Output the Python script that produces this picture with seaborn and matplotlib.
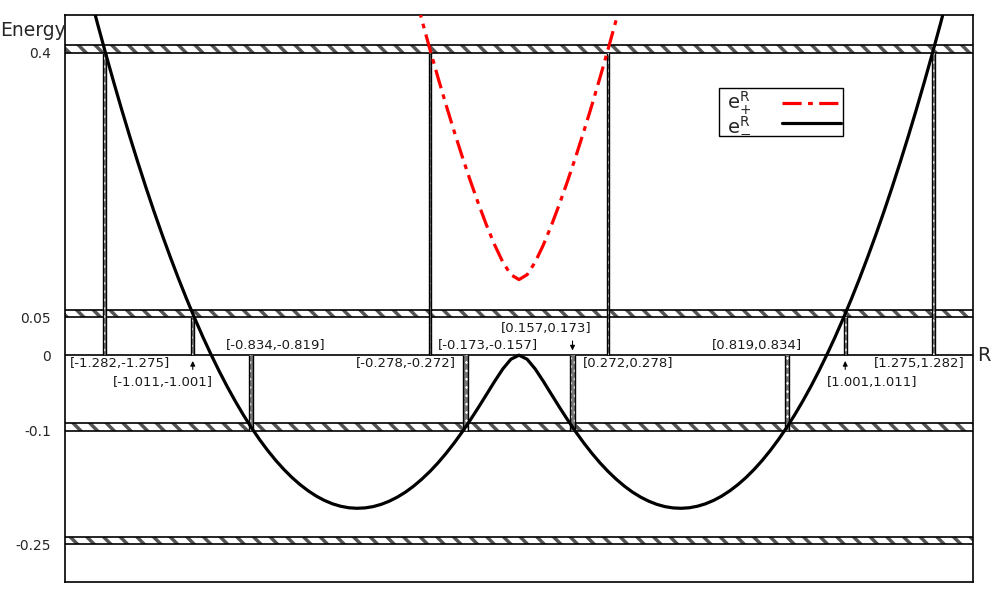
import matplotlib
matplotlib.use("Agg")
import matplotlib.pyplot as plt
import matplotlib.transforms as mtransforms
import seaborn as sns

# curve samples
r_minus = [-1.4, -1.375, -1.35, -1.325, -1.3, -1.275, -1.25, -1.225, -1.2, -1.175,
           -1.15, -1.125, -1.1, -1.075, -1.05, -1.025, -1.0, -0.975, -0.95, -0.925,
           -0.9, -0.875, -0.85, -0.825, -0.8, -0.775, -0.75, -0.725, -0.7, -0.675,
           -0.65, -0.625, -0.6, -0.575, -0.55, -0.525, -0.5, -0.475, -0.45, -0.425,
           -0.4, -0.375, -0.35, -0.325, -0.3, -0.275, -0.25, -0.225, -0.2, -0.175,
           -0.15, -0.125, -0.1, -0.075, -0.05, -0.025, 0.0,
           0.025, 0.05, 0.075, 0.1, 0.125, 0.15, 0.175, 0.2, 0.225, 0.25,
           0.275, 0.3, 0.325, 0.35, 0.375, 0.4, 0.425, 0.45, 0.475, 0.5,
           0.525, 0.55, 0.575, 0.6, 0.625, 0.65, 0.675, 0.7, 0.725, 0.75,
           0.775, 0.8, 0.825, 0.85, 0.875, 0.9, 0.925, 0.95, 0.975, 1.0,
           1.025, 1.05, 1.075, 1.1, 1.125, 1.15, 1.175, 1.2, 1.225, 1.25,
           1.275, 1.3, 1.325, 1.35, 1.375, 1.4]
e_minus = [0.6091, 0.5647, 0.5216, 0.4797, 0.439, 0.3997, 0.3615, 0.3246, 0.289, 0.2546,
           0.2214, 0.1895, 0.1589, 0.1295, 0.1013, 0.0744, 0.0488, 0.0243, 0.0012, -0.0207,
           -0.0414, -0.0608, -0.079, -0.0959, -0.1116, -0.126, -0.1392, -0.1511, -0.1618, -0.1712,
           -0.1794, -0.1864, -0.1921, -0.1966, -0.1998, -0.2018, -0.2025, -0.202, -0.2003, -0.1973,
           -0.1931, -0.1877, -0.1811, -0.1732, -0.1641, -0.1539, -0.1425, -0.1299, -0.1162, -0.1014,
           -0.0856, -0.069, -0.0518, -0.0345, -0.0182, -0.0053, 0.0,
           -0.0053, -0.0182, -0.0345, -0.0518, -0.069, -0.0856, -0.1014, -0.1162, -0.1299, -0.1425,
           -0.1539, -0.1641, -0.1732, -0.1811, -0.1877, -0.1931, -0.1973, -0.2003, -0.202, -0.2025,
           -0.2018, -0.1998, -0.1966, -0.1921, -0.1864, -0.1794, -0.1712, -0.1618, -0.1511, -0.1392,
           -0.126, -0.1116, -0.0959, -0.079, -0.0608, -0.0414, -0.0207, 0.0012, 0.0243, 0.0488,
           0.0744, 0.1013, 0.1295, 0.1589, 0.1895, 0.2214, 0.2546, 0.289, 0.3246, 0.3615,
           0.3997, 0.439, 0.4797, 0.5216, 0.5647, 0.6091]
r_plus = [-0.35, -0.325, -0.3, -0.275, -0.25, -0.225, -0.2, -0.175, -0.15, -0.125,
          -0.1, -0.075, -0.05, -0.025, 0.0, 0.025, 0.05, 0.075, 0.1, 0.125,
          0.15, 0.175, 0.2, 0.225, 0.25, 0.275, 0.3, 0.325, 0.35]
e_plus = [0.5261, 0.4845, 0.4441, 0.4051, 0.3675, 0.3311, 0.2962, 0.2626, 0.2306, 0.2003,
          0.1718, 0.1458, 0.1232, 0.1065, 0.1, 0.1065, 0.1232, 0.1458, 0.1718, 0.2003,
          0.2306, 0.2626, 0.2962, 0.3311, 0.3675, 0.4051, 0.4441, 0.4845, 0.5261]

# energy windows [E, E + 0.01]
levels = [0.4, 0.05, -0.1, -0.25]
band_width = 0.01
tick_values = [0.4, 0.05, 0, -0.1, -0.25]
tick_labels = ["0.4", "0.05", "0", "-0.1", "-0.25"]

# preimage intervals in R, with the level they belong to
intervals = [(-1.282, -1.275), (-1.011, -1.001), (-0.834, -0.819), (-0.278, -0.272),
             (-0.173, -0.157), (0.157, 0.173), (0.272, 0.278), (0.819, 0.834),
             (1.001, 1.011), (1.275, 1.282)]
interval_level = [0.4, 0.05, -0.1, 0.4, -0.1, -0.1, 0.4, -0.1, 0.05, 0.4]
label_pos = [(-1.229, -0.0106), (-1.097, -0.0357), (-0.749, 0.0132), (-0.349, -0.0106),
             (-0.097, 0.0132), (0.085, 0.0357), (0.337, -0.0106), (0.734, 0.0132),
             (1.088, -0.0357), (1.235, -0.0106)]
arrows = [(-1.006, -0.0225, -0.004), (0.165, 0.0225, 0.0026), (1.006, -0.0225, -0.004)]

sns.set_style("white")
plt.rcParams["font.family"] = ["DejaVu Sans"]
plt.rcParams["mathtext.fontset"] = "dejavusans"
plt.rcParams["hatch.linewidth"] = 2.5

fig = plt.figure(figsize=(10, 6), dpi=100)
ax = fig.add_axes([0.065, 0.03, 0.908, 0.945])

for lev in levels:
    ax.axhspan(lev, lev + band_width, facecolor="white", edgecolor="#555555",
               hatch="\\\\", lw=0, zorder=1)
    ax.axhline(lev, color="black", lw=1.2, zorder=2)
    ax.axhline(lev + band_width, color="black", lw=1.2, zorder=2)
ax.axhline(0, color="black", lw=1.2, zorder=2)

for (a, b), lev in zip(intervals, interval_level):
    ax.fill_between([a, b], [0, 0], [lev, lev], facecolor="white", edgecolor="#777777",
                    hatch="xxxx", lw=0, zorder=3)
    ax.vlines([a, b], min(0, lev), max(0, lev), color="black", lw=1.0, zorder=3)

for (a, b), (tx, ty) in zip(intervals, label_pos):
    ax.text(tx, ty, f"[{a:.3f},{b:.3f}]", ha="center", va="center",
            fontsize=9.5, color="#1a1a1a", zorder=6)

for x, y0, y1 in arrows:
    ax.annotate("", xy=(x, y1), xytext=(x, y0),
                arrowprops=dict(arrowstyle="-|>", lw=0.8, color="black",
                                mutation_scale=7), zorder=6)

sns.lineplot(x=r_plus, y=e_plus, ax=ax, color="red", lw=2.3,
             label=r"$\ \mathrm{e}_{+}^{\mathrm{R}}$", zorder=5)
ax.lines[-1].set_dashes([6, 2, 1.5, 2])
sns.lineplot(x=r_minus, y=e_minus, ax=ax, color="black", lw=2.3,
             label=r"$\ \mathrm{e}_{-}^{\mathrm{R}}$", zorder=5)

ax.set_xlim(-1.4, 1.4)
ax.set_ylim(-0.3, 0.45)
ax.set_xticks([])
ax.set_yticks(tick_values)
ax.set_yticklabels(tick_labels, fontsize=10)
ax.tick_params(axis="y", length=0, pad=10)
for sp in ax.spines.values():
    sp.set_color("black")
    sp.set_linewidth(1.2)

leg = ax.legend(loc="upper left", bbox_to_anchor=(0.72, 0.871), markerfirst=False,
                fancybox=False, framealpha=1, edgecolor="black", fontsize=14,
                handlelength=3.0, borderpad=0.1, labelspacing=-0.15,
                handletextpad=1.6, borderaxespad=0)
leg.get_frame().set_linewidth(1.0)

fig.text(0.0, 0.95, "Energy", fontsize=13.5, ha="left", va="center")
trans = mtransforms.blended_transform_factory(ax.transAxes, ax.transData)
ax.text(1.005, 0, "R", transform=trans, fontsize=14, ha="left", va="center")

fig.savefig("out.png", dpi=100)
